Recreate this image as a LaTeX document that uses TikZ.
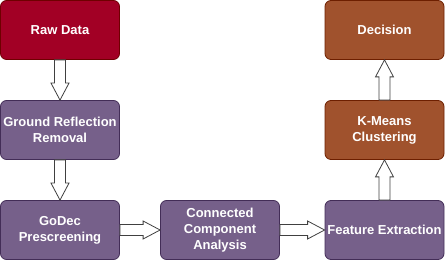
\documentclass[tikz,border=0pt]{standalone}
\usepackage{fontspec}
\setmainfont{Liberation Sans}
\usetikzlibrary{calc}

\definecolor{rawfill}{HTML}{A20025}
\definecolor{rawline}{HTML}{6F0000}
\definecolor{procfill}{HTML}{76608A}
\definecolor{procline}{HTML}{432D57}
\definecolor{decfill}{HTML}{A0522D}
\definecolor{decline}{HTML}{6D1F00}

% hollow block arrow from one anchor to another
\newcommand{\blockarrow}[2]{%
  \coordinate (ba-s) at (#1);
  \coordinate (ba-e) at (#2);
  \coordinate (ba-b) at ($(ba-e)!17pt!(ba-s)$);
  \draw[hollow] ($(ba-s)!5.5pt!90:(ba-e)$) -- ($(ba-b)!5.5pt!90:(ba-e)$)
    -- ($(ba-b)!9pt!90:(ba-e)$) -- (ba-e) -- ($(ba-b)!9pt!-90:(ba-e)$)
    -- ($(ba-b)!5.5pt!-90:(ba-e)$) -- ($(ba-s)!5.5pt!-90:(ba-e)$) -- cycle;}

\begin{document}
\begin{tikzpicture}[
  x=1pt, y=-1pt,
  font=\fontsize{13}{16}\selectfont\bfseries,
  block/.style={
    rounded corners=6pt,
    line width=0.8pt,
    align=center,
    minimum width=119pt,
    minimum height=59pt,
    inner sep=1pt,
    text=white
  },
  rawblock/.style={block, draw=rawline, fill=rawfill},
  procblock/.style={block, draw=procline, fill=procfill},
  decblock/.style={block, draw=decline, fill=decfill},
  hollow/.style={draw=black!75, fill=white, line width=0.8pt, line join=miter}
]
\useasboundingbox (0,0) rectangle (445,261);

\node[rawblock] (raw) at (60,30) {Raw Data};
\node[procblock] (ground) at (60,130) {Ground Reflection\\Removal};
\node[procblock] (godec) at (60,230) {GoDec\\Prescreening};
\node[procblock] (ccomp) at (220,230) {Connected\\Component\\Analysis};
\node[procblock] (feature) at (384.5,230) {Feature Extraction};
\node[decblock] (kmeans) at (384.5,130) {K-Means\\Clustering};
\node[decblock] (decision) at (384.5,30) {Decision};

\blockarrow{raw.south}{ground.north}
\blockarrow{ground.south}{godec.north}
\blockarrow{godec.east}{ccomp.west}
\blockarrow{ccomp.east}{feature.west}
\blockarrow{feature.north}{kmeans.south}
\blockarrow{kmeans.north}{decision.south}

\end{tikzpicture}
\end{document}
